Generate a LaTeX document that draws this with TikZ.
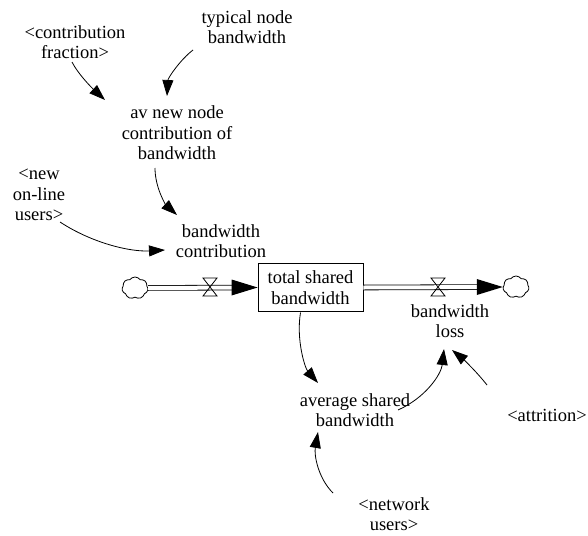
\documentclass[tikz,border=0pt]{standalone}
\usepackage{fontspec}
\setmainfont{Liberation Serif}
\usetikzlibrary{arrows.meta,shapes.symbols,calc}
\begin{document}
\begin{tikzpicture}[x=1pt,y=-1pt,
  lbl/.style={align=center,inner sep=0pt,font=\fontsize{18.5}{20.5}\selectfont},
  link/.style={-{Triangle[length=16pt,width=11pt]},line width=0.8pt},
  pipe/.style={double distance=4pt,line width=0.8pt},
  valve/.style={draw,line width=0.8pt},
  stockbox/.style={draw,line width=0.8pt,minimum width=105pt,minimum height=48pt,align=center,inner sep=0pt,font=\fontsize{18.5}{21.5}\selectfont},
  cloudy/.style={cloud,cloud puffs=7,cloud puff arc=110,draw,line width=0.8pt,minimum width=26pt,minimum height=22pt,inner sep=0pt,aspect=1.2},
]
\useasboundingbox (0,0) rectangle (588,535);

\node[lbl] (cf) at (75,42) {<contribution\\fraction>};
\node[lbl] (tnb) at (247,27) {typical node\\bandwidth};
\node[lbl] (av) at (177,133) {av new node\\contribution of\\bandwidth};
\node[lbl] (nou) at (39,195) {<new\\on-line\\users>};
\node[lbl] (bc) at (221,241) {bandwidth\\contribution};
\node[stockbox] (stock) at (310.5,287.5) {total shared\\bandwidth};
\node[lbl] (loss) at (450,321) {bandwidth\\loss};
\node[lbl] (asb) at (355,410) {average shared\\bandwidth};
\node[lbl] (attr) at (547,415) {<attrition>};
\node[lbl] (nu) at (394,514) {<network\\users>};
\node[cloudy] (cloudL) at (135,288) {};
\node[cloudy] (cloudR) at (516,287) {};
\coordinate (v1) at (210,287);
\coordinate (v2) at (438,287);

% flows
\draw[pipe,shorten >=25pt] (cloudL) -- (stock.west);
\fill ($(stock.west)+(-26,-8)$) -- (stock.west) -- ($(stock.west)+(-26,8)$) -- cycle;
\draw[pipe,shorten >=25pt] (stock.east) -- (cloudR.west);
\fill ($(cloudR.west)+(-26,-8)$) -- (cloudR.west) -- ($(cloudR.west)+(-26,8)$) -- cycle;
\draw[valve] ($(v1)+(-7,-9)$) -- ($(v1)+(7,-9)$) -- ($(v1)+(-7,9)$) -- ($(v1)+(7,9)$) -- cycle;
\draw[valve] ($(v2)+(-7,-9)$) -- ($(v2)+(7,-9)$) -- ($(v2)+(-7,9)$) -- ($(v2)+(7,9)$) -- cycle;

% links
\draw[link] ($(cf)+(-3,20)$) .. controls (78,74) and (92,88) .. ($(av)+(-72,-33)$);
\draw[link] ($(tnb)+(-54,23)$) .. controls (180,60) and (168,78) .. ($(av)+(-10,-37)$);
\draw[link] ($(av)+(-22,35)$) .. controls (155,188) and (166,205) .. ($(bc)+(-44,-26)$);
\draw[link] ($(nou)+(21,27)$) .. controls (92,243) and (130,252) .. ($(bc)+(-56,9)$);
\draw[link] ($(stock)+(-10,25)$) .. controls (296,340) and (305,368) .. ($(asb)+(-37,-27)$);
\draw[link] ($(asb)+(43,0)$) .. controls (425,398) and (441,375) .. ($(loss)+(-6,28)$);
\draw[link] ($(attr)+(-60,-30)$) .. controls (476,371) and (463,359) .. ($(loss)+(2,29)$);
\draw[link] ($(nu)+(-61,-21)$) .. controls (318,478) and (314,455) .. ($(asb)+(-37,22)$);
\end{tikzpicture}
\end{document}
